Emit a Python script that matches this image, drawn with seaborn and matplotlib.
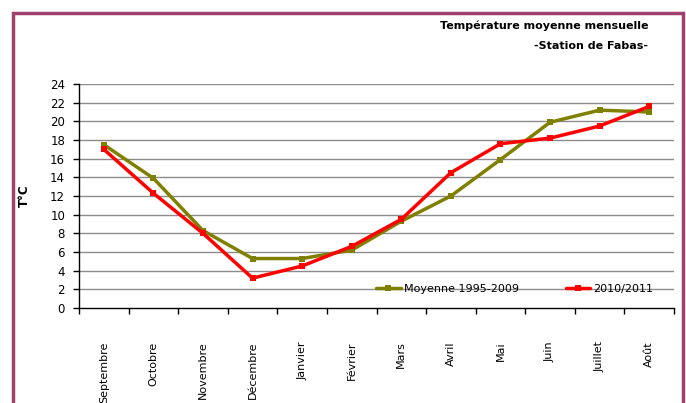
import numpy as np
import pandas as pd
import matplotlib
matplotlib.use("Agg")
import matplotlib.pyplot as plt
import seaborn as sns
from matplotlib.patches import Rectangle

sns.set_style("white", {"text.color": "black", "axes.labelcolor": "black",
                        "xtick.color": "black", "ytick.color": "black"})
plt.rcParams['font.family'] = ['DejaVu Sans']

# data
mois = ["Septembre", "Octobre", "Novembre", "Décembre", "Janvier", "Février",
        "Mars", "Avril", "Mai", "Juin", "Juillet", "Août"]
moyenne_1995_2009 = [17.5, 13.9, 8.3, 5.3, 5.3, 6.2, 9.3, 12.0, 15.9, 19.9, 21.2, 21.0]
annee_2010_2011 = [17.0, 12.3, 8.0, 3.2, 4.5, 6.6, 9.5, 14.5, 17.6, 18.2, 19.5, 21.6]
yticks = list(range(0, 25, 2))

df = pd.DataFrame({
    "mois": mois * 2,
    "temp": moyenne_1995_2009 + annee_2010_2011,
    "serie": ["Moyenne 1995-2009"] * 12 + ["2010/2011"] * 12,
})
df["pos"] = np.tile(np.arange(12), 2)

fig = plt.figure(figsize=(6.86, 4.03), dpi=100)
ax = fig.add_axes([79 / 686, 1 - 308 / 403, 595 / 686, 224 / 403])

# border around the figure
fig.patches.append(Rectangle((13 / 686, -0.1), 670 / 686, 1.1 - 13 / 403,
                             transform=fig.transFigure, fill=False,
                             edgecolor="#a0406e", linewidth=2.5))

ax.set_axisbelow(True)
for y in yticks[1:]:
    ax.axhline(y, color="#8c8c8c", lw=1, zorder=0)

sns.lineplot(data=df, x="pos", y="temp", hue="serie",
             palette={"Moyenne 1995-2009": "#808000", "2010/2011": "#ff0000"},
             marker="s", markersize=4, markeredgewidth=0, linewidth=2.5,
             ax=ax, zorder=3)

ax.set_xlim(-0.5, 11.5)
ax.set_ylim(0, 24)
ax.set_yticks(yticks)
ax.set_yticklabels([str(v) for v in yticks], fontsize=8.5)
ax.set_xticks(np.arange(-0.5, 12, 1))
ax.set_xticklabels([])
ax.set_xticks(np.arange(12), minor=True)
ax.set_xticklabels(mois, minor=True, rotation=90, fontsize=8, va="top")
ax.tick_params(axis="x", which="minor", length=0, pad=24)
ax.tick_params(axis="both", which="major", direction="out", length=4,
               color="black", width=1, left=True, bottom=True)
ax.tick_params(axis="y", pad=6)

for s in ["top", "right"]:
    ax.spines[s].set_visible(False)
for s in ["left", "bottom"]:
    ax.spines[s].set_color("black")
    ax.spines[s].set_linewidth(1)

ax.set_xlabel("")
ax.set_ylabel("T°C", fontsize=8.5, fontweight="bold", labelpad=14)

leg = ax.legend(loc="center left", bbox_to_anchor=(0.49, 2 / 24), ncol=2,
                frameon=False, fontsize=8, handlelength=2.2, borderpad=0,
                columnspacing=4.2, handletextpad=0.3)

fig.text(648 / 686, 1 - 26 / 403, "Température moyenne mensuelle",
         ha="right", va="center", fontsize=8, fontweight="bold")
fig.text(648 / 686, 1 - 46 / 403, "-Station de Fabas-",
         ha="right", va="center", fontsize=8, fontweight="bold")

fig.savefig("out.png", dpi=100)
